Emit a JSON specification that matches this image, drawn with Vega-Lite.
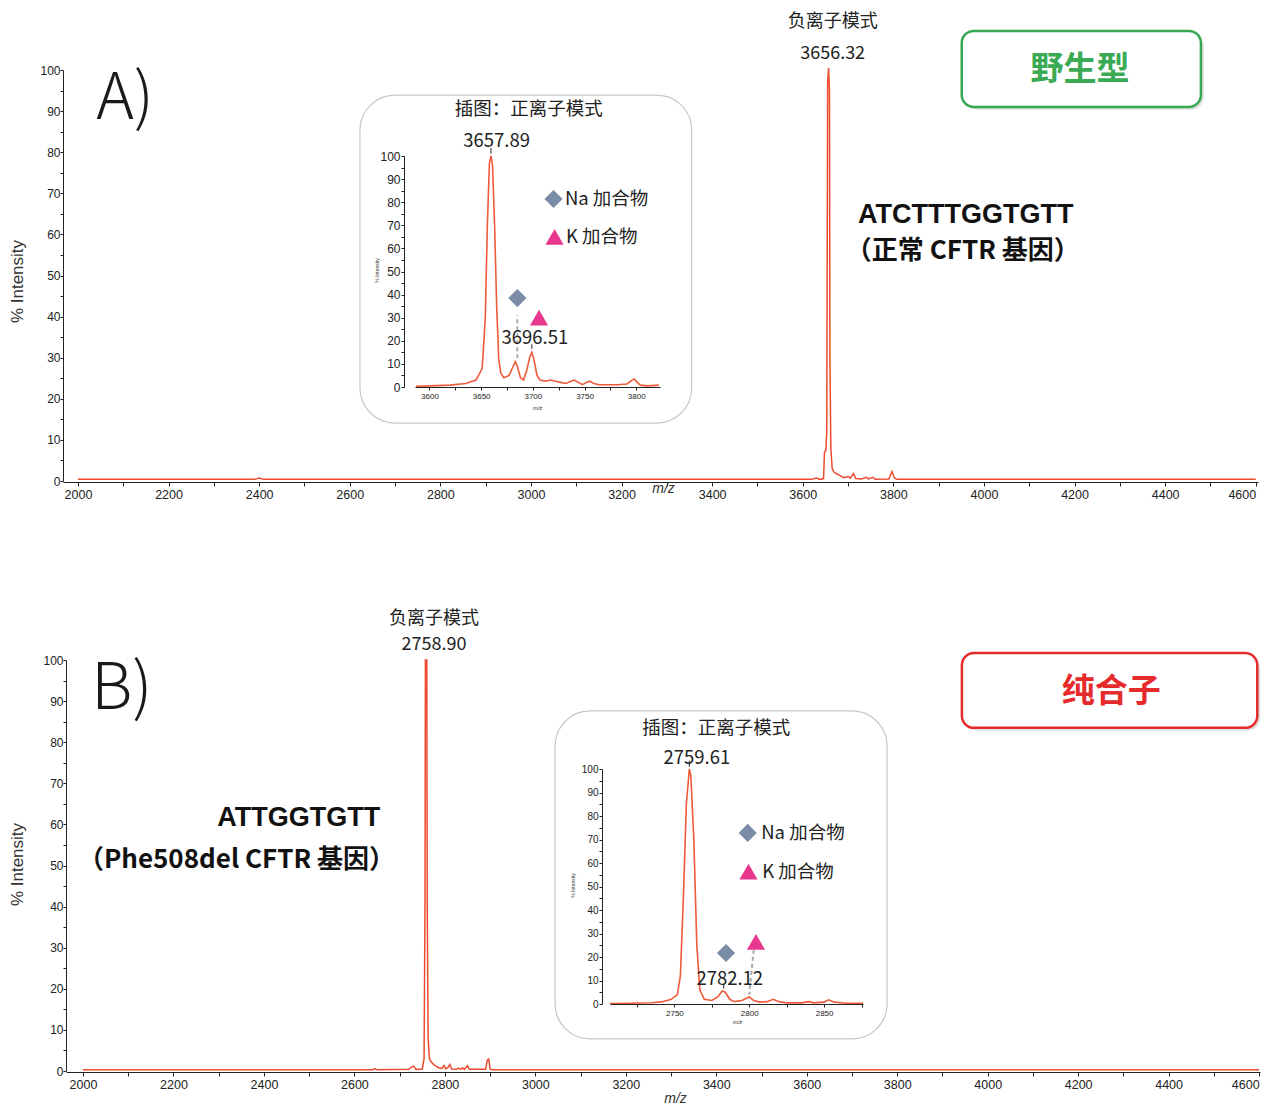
{
  "$schema": "https://vega.github.io/schema/vega-lite/v6.json",
  "width": 1265,
  "height": 1104,
  "padding": 0,
  "autosize": {"type": "none"},
  "background": "white",
  "config": {
    "view": {"stroke": null},
    "axis": {"grid": false, "domainColor": "#222", "tickColor": "#222", "labelColor": "#222", "labelFont": "Liberation Sans", "titleFont": "Liberation Sans", "titleColor": "#333", "titleFontWeight": "normal", "labelFlush": false, "labelOverlap": false},
    "text": {"font": "Noto Sans CJK SC", "color": "#222", "baseline": "middle"}
  },
  "datasets": {
    "specA": [{"x":2000,"y":0.4},{"x":2390,"y":0.4},{"x":2400,"y":0.7},{"x":2410,"y":0.4},{"x":3620,"y":0.4},{"x":3630,"y":0.7},{"x":3638,"y":0.4},{"x":3646,"y":0.6},{"x":3648,"y":7},{"x":3651,"y":7.5},{"x":3653,"y":12},{"x":3655,"y":97},{"x":3657,"y":100.5},{"x":3659,"y":95},{"x":3660,"y":30},{"x":3662,"y":8},{"x":3665,"y":3},{"x":3670,"y":2},{"x":3680,"y":1.5},{"x":3690,"y":0.8},{"x":3700,"y":1.1},{"x":3705,"y":0.7},{"x":3712,"y":1.8},{"x":3717,"y":0.6},{"x":3730,"y":0.5},{"x":3740,"y":0.9},{"x":3745,"y":0.5},{"x":3755,"y":0.9},{"x":3760,"y":0.4},{"x":3790,"y":0.5},{"x":3797,"y":2.3},{"x":3802,"y":0.8},{"x":3808,"y":0.4},{"x":4600,"y":0.4}],
    "specB": [{"x":2000,"y":0.3},{"x":2640,"y":0.3},{"x":2645,"y":0.6},{"x":2650,"y":0.3},{"x":2720,"y":0.4},{"x":2727,"y":1.0},{"x":2731,"y":1.2},{"x":2736,"y":0.4},{"x":2750,"y":0.5},{"x":2754,"y":3},{"x":2756,"y":40},{"x":2757,"y":100},{"x":2760,"y":100},{"x":2761,"y":40},{"x":2763,"y":8},{"x":2766,"y":3},{"x":2770,"y":2.2},{"x":2775,"y":1.6},{"x":2780,"y":1.2},{"x":2786,"y":0.8},{"x":2793,"y":0.6},{"x":2798,"y":1.3},{"x":2802,"y":0.5},{"x":2808,"y":1.0},{"x":2811,"y":1.6},{"x":2815,"y":0.5},{"x":2825,"y":0.4},{"x":2830,"y":0.7},{"x":2835,"y":0.4},{"x":2839,"y":0.8},{"x":2843,"y":0.4},{"x":2850,"y":1.3},{"x":2854,"y":0.4},{"x":2890,"y":0.4},{"x":2894,"y":2.7},{"x":2897,"y":2.9},{"x":2900,"y":0.5},{"x":2905,"y":0.3},{"x":4600,"y":0.3}],
    "insA": [{"x":3587,"y":0.3},{"x":3600,"y":0.5},{"x":3620,"y":0.8},{"x":3635,"y":1.5},{"x":3645,"y":3},{"x":3651,"y":8},{"x":3654,"y":30},{"x":3656,"y":70},{"x":3658,"y":97},{"x":3659.5,"y":100},{"x":3661,"y":96},{"x":3663,"y":70},{"x":3665,"y":35},{"x":3667,"y":12},{"x":3669,"y":6},{"x":3672,"y":4},{"x":3677,"y":5},{"x":3681,"y":9},{"x":3683,"y":11},{"x":3685,"y":9},{"x":3688,"y":4},{"x":3691,"y":3},{"x":3694,"y":7},{"x":3697,"y":13},{"x":3699,"y":15},{"x":3701,"y":12},{"x":3704,"y":5},{"x":3707,"y":3},{"x":3712,"y":2.5},{"x":3717,"y":3},{"x":3722,"y":2.5},{"x":3727,"y":2},{"x":3732,"y":1.5},{"x":3737,"y":2.5},{"x":3740,"y":3},{"x":3744,"y":2},{"x":3748,"y":1},{"x":3752,"y":2},{"x":3755,"y":2.5},{"x":3759,"y":1.5},{"x":3764,"y":1},{"x":3772,"y":1},{"x":3782,"y":1},{"x":3791,"y":1.3},{"x":3796,"y":3},{"x":3798,"y":3.5},{"x":3801,"y":2},{"x":3804,"y":0.8},{"x":3811,"y":0.5},{"x":3822,"y":0.8}],
    "insB": [{"x":2707,"y":0.2},{"x":2720,"y":0.3},{"x":2735,"y":0.5},{"x":2742,"y":1},{"x":2748,"y":2},{"x":2752,"y":4},{"x":2754,"y":12},{"x":2756,"y":45},{"x":2758,"y":85},{"x":2760,"y":100},{"x":2761,"y":97},{"x":2763,"y":70},{"x":2765,"y":25},{"x":2767,"y":6},{"x":2770,"y":2},{"x":2775,"y":1.5},{"x":2779,"y":3},{"x":2782,"y":5.5},{"x":2784,"y":5},{"x":2787,"y":2},{"x":2790,"y":1},{"x":2795,"y":1.5},{"x":2800,"y":3},{"x":2803,"y":1.5},{"x":2807,"y":0.8},{"x":2812,"y":1},{"x":2816,"y":2},{"x":2820,"y":1},{"x":2825,"y":0.5},{"x":2835,"y":0.5},{"x":2840,"y":1},{"x":2843,"y":0.5},{"x":2850,"y":0.8},{"x":2853,"y":1.8},{"x":2857,"y":0.8},{"x":2865,"y":0.3},{"x":2876,"y":0.3}]
  },
  "layer": [
    {
      "data": {"values": [{"x": 2622.5, "x2": 3355, "y": 93.9, "y2": 14.1}]},
      "mark": {"type": "rect", "filled": false, "stroke": "#c8c8c8", "strokeWidth": 1.2, "cornerRadius": 35},
      "encoding": {
        "x": {"field": "x", "type": "quantitative", "scale": {"domain": [1967, 4605], "range": [63, 1258], "nice": false, "zero": false}, "axis": null}, "x2": {"field": "x2"},
        "y": {"field": "y", "type": "quantitative", "scale": {"domain": [0, 100], "range": [481, 70], "nice": false, "zero": false}, "axis": null}, "y2": {"field": "y2"}
      }
    },
    {
      "data": {"values": [{"x": 3043.6, "x2": 3777.6, "y": 87.6, "y2": 7.8}]},
      "mark": {"type": "rect", "filled": false, "stroke": "#c8c8c8", "strokeWidth": 1.2, "cornerRadius": 35},
      "encoding": {
        "x": {"field": "x", "type": "quantitative", "scale": {"domain": [1962.4, 4602], "range": [66, 1260], "nice": false, "zero": false}, "axis": null}, "x2": {"field": "x2"},
        "y": {"field": "y", "type": "quantitative", "scale": {"domain": [0, 100], "range": [1071, 660], "nice": false, "zero": false}, "axis": null}, "y2": {"field": "y2"}
      }
    },
    {
      "data": {"name": "specA"},
      "mark": {"type": "line", "color": "#ee4a30", "strokeWidth": 1.5},
      "encoding": {
        "x": {"field": "x", "type": "quantitative", "scale": {"domain": [1967, 4605], "range": [63, 1258], "nice": false, "zero": false},
          "axis": {"orient": "bottom", "offset": -622, "values": [2000,2100,2200,2300,2400,2500,2600,2700,2800,2900,3000,3100,3200,3300,3400,3500,3600,3700,3800,3900,4000,4100,4200,4300,4400,4500,4600], "format": "d", "labelExpr": "datum.value % 200 === 0 ? datum.label : ''", "labelFlush": 5, "tickSize": 4, "labelPadding": 2, "labelFontSize": 12.5, "title": "m/z", "titleFontStyle": "italic", "titleFontSize": 14, "titleX": 663, "titleY": 6, "titleBaseline": "middle"}},
        "y": {"field": "y", "type": "quantitative", "scale": {"domain": [0, 100], "range": [481, 70], "nice": false, "zero": false},
          "axis": {"orient": "left", "offset": -63, "values": [0,5,10,15,20,25,30,35,40,45,50,55,60,65,70,75,80,85,90,95,100], "labelExpr": "datum.value % 10 === 0 ? datum.label : ''", "tickSize": 3, "labelPadding": 0, "labelFontSize": 12, "title": "% Intensity", "titleFontSize": 17, "titleX": -37, "titleY": 281}}
      }
    },
    {
      "data": {"values": [{"x": 3957.6, "x2": 4485.6, "y": 108.8, "y2": 90.3}]},
      "mark": {"type": "rect", "fill": "#000", "opacity": 0.12, "cornerRadius": 13},
      "encoding": {
        "x": {"field": "x", "type": "quantitative", "scale": {"domain": [1967, 4605], "range": [63, 1258], "nice": false, "zero": false}, "axis": null}, "x2": {"field": "x2"},
        "y": {"field": "y", "type": "quantitative", "scale": {"domain": [0, 100], "range": [481, 70], "nice": false, "zero": false}, "axis": null}, "y2": {"field": "y2"}
      }
    },
    {
      "data": {"values": [{"x": 3951, "x2": 4479, "y": 109.5, "y2": 91}]},
      "mark": {"type": "rect", "fill": "white", "stroke": "#35a852", "strokeWidth": 2.5, "cornerRadius": 12},
      "encoding": {
        "x": {"field": "x", "type": "quantitative", "scale": {"domain": [1967, 4605], "range": [63, 1258], "nice": false, "zero": false}, "axis": null}, "x2": {"field": "x2"},
        "y": {"field": "y", "type": "quantitative", "scale": {"domain": [0, 100], "range": [481, 70], "nice": false, "zero": false}, "axis": null}, "y2": {"field": "y2"}
      }
    },
    {
      "data": {"values": [{"x": 4212, "y": 100, "t": "野生型"}]},
      "mark": {"type": "text", "fontSize": 33, "fontWeight": "bold", "color": "#3aaa55"},
      "encoding": {
        "x": {"field": "x", "type": "quantitative", "scale": {"domain": [1967, 4605], "range": [63, 1258], "nice": false, "zero": false}, "axis": null},
        "y": {"field": "y", "type": "quantitative", "scale": {"domain": [0, 100], "range": [481, 70], "nice": false, "zero": false}, "axis": null},
        "text": {"field": "t"}
      }
    },
    {
      "data": {"values": [{"x": 3666, "y": 111.6, "t": "负离子模式"}, {"x": 3666, "y": 103.9, "t": "3656.32"}]},
      "mark": {"type": "text", "fontSize": 18},
      "encoding": {
        "x": {"field": "x", "type": "quantitative", "scale": {"domain": [1967, 4605], "range": [63, 1258], "nice": false, "zero": false}, "axis": null},
        "y": {"field": "y", "type": "quantitative", "scale": {"domain": [0, 100], "range": [481, 70], "nice": false, "zero": false}, "axis": null},
        "text": {"field": "t"}
      }
    },
    {
      "data": {"values": [{"x": 2104, "y": 92.7, "t": "A)"}]},
      "mark": {"type": "text", "fontSize": 64, "fontWeight": 300, "color": "#1a1a1a"},
      "encoding": {
        "x": {"field": "x", "type": "quantitative", "scale": {"domain": [1967, 4605], "range": [63, 1258], "nice": false, "zero": false}, "axis": null},
        "y": {"field": "y", "type": "quantitative", "scale": {"domain": [0, 100], "range": [481, 70], "nice": false, "zero": false}, "axis": null},
        "text": {"field": "t"}
      }
    },
    {
      "data": {"values": [{"x": 3722, "y": 64.7, "t": "ATCTTTGGTGTT"}]},
      "mark": {"type": "text", "font": "Liberation Sans", "fontSize": 27, "fontWeight": "bold", "align": "left", "color": "#111"},
      "encoding": {
        "x": {"field": "x", "type": "quantitative", "scale": {"domain": [1967, 4605], "range": [63, 1258], "nice": false, "zero": false}, "axis": null},
        "y": {"field": "y", "type": "quantitative", "scale": {"domain": [0, 100], "range": [481, 70], "nice": false, "zero": false}, "axis": null},
        "text": {"field": "t"}
      }
    },
    {
      "data": {"values": [{"x": 3695, "y": 56, "t": "（正常 CFTR 基因）"}]},
      "mark": {"type": "text", "fontSize": 26, "fontWeight": "bold", "align": "left", "color": "#111"},
      "encoding": {
        "x": {"field": "x", "type": "quantitative", "scale": {"domain": [1967, 4605], "range": [63, 1258], "nice": false, "zero": false}, "axis": null},
        "y": {"field": "y", "type": "quantitative", "scale": {"domain": [0, 100], "range": [481, 70], "nice": false, "zero": false}, "axis": null},
        "text": {"field": "t"}
      }
    },
    {
      "data": {"name": "insA"},
      "mark": {"type": "line", "color": "#ef5a3a", "strokeWidth": 1.6},
      "encoding": {
        "x": {"field": "x", "type": "quantitative", "scale": {"domain": [3586, 3823], "range": [415, 660], "nice": false, "zero": false},
          "axis": {"orient": "bottom", "offset": -717, "zindex": 1, "values": [3600,3625,3650,3675,3700,3725,3750,3775,3800], "format": "d", "labelExpr": "datum.value % 50 === 0 ? datum.label : ''", "tickSize": 3, "labelPadding": 2, "labelFontSize": 8, "title": "m/z", "titleFontStyle": "italic", "titleFontSize": 6, "titleX": 537, "titleY": 20, "titleBaseline": "middle"}},
        "y": {"field": "y", "type": "quantitative", "scale": {"domain": [0, 100], "range": [387, 156], "nice": false, "zero": false},
          "axis": {"orient": "left", "offset": -404, "zindex": 1, "values": [0,5,10,15,20,25,30,35,40,45,50,55,60,65,70,75,80,85,90,95,100], "labelExpr": "datum.value % 10 === 0 ? datum.label : ''", "tickSize": 3, "labelPadding": 1, "labelFontSize": 12, "title": "% Intensity", "titleFontSize": 5, "titleX": -25, "titleY": 270}}
      }
    },
    {
      "data": {"values": [{"x": 3685, "x2": 3685, "y": 12.5, "y2": 31}]},
      "mark": {"type": "rule", "color": "#aaaaaa", "strokeWidth": 2, "strokeDash": [4, 3]},
      "encoding": {
        "x": {"field": "x", "type": "quantitative", "scale": {"domain": [3586, 3823], "range": [415, 660], "nice": false, "zero": false}, "axis": null}, "x2": {"field": "x2"},
        "y": {"field": "y", "type": "quantitative", "scale": {"domain": [0, 100], "range": [387, 156], "nice": false, "zero": false}, "axis": null}, "y2": {"field": "y2"}
      }
    },
    {
      "data": {"values": [{"x": 3659.5, "x2": 3659.5, "y": 101, "y2": 103.5}, {"x": 3699, "x2": 3699, "y": 16.5, "y2": 18.5}]},
      "mark": {"type": "rule", "color": "#222", "strokeWidth": 1},
      "encoding": {
        "x": {"field": "x", "type": "quantitative", "scale": {"domain": [3586, 3823], "range": [415, 660], "nice": false, "zero": false}, "axis": null}, "x2": {"field": "x2"},
        "y": {"field": "y", "type": "quantitative", "scale": {"domain": [0, 100], "range": [387, 156], "nice": false, "zero": false}, "axis": null}, "y2": {"field": "y2"}
      }
    },
    {
      "data": {"values": [{"x": 3685, "y": 38.5}, {"x": 3720, "y": 81.4}]},
      "mark": {"type": "point", "shape": "diamond", "filled": true, "color": "#7b8ca6", "opacity": 1, "size": 330},
      "encoding": {
        "x": {"field": "x", "type": "quantitative", "scale": {"domain": [3586, 3823], "range": [415, 660], "nice": false, "zero": false}, "axis": null},
        "y": {"field": "y", "type": "quantitative", "scale": {"domain": [0, 100], "range": [387, 156], "nice": false, "zero": false}, "axis": null}
      }
    },
    {
      "data": {"values": [{"x": 3706, "y": 30}, {"x": 3721, "y": 65}]},
      "mark": {"type": "point", "shape": "triangle-up", "filled": true, "color": "#e8388d", "opacity": 1, "size": 330},
      "encoding": {
        "x": {"field": "x", "type": "quantitative", "scale": {"domain": [3586, 3823], "range": [415, 660], "nice": false, "zero": false}, "axis": null},
        "y": {"field": "y", "type": "quantitative", "scale": {"domain": [0, 100], "range": [387, 156], "nice": false, "zero": false}, "axis": null}
      }
    },
    {
      "data": {"values": [{"x": 3696, "y": 120.2, "t": "插图：正离子模式"}, {"x": 3665, "y": 106.5, "t": "3657.89"}, {"x": 3702, "y": 21, "t": "3696.51"}]},
      "mark": {"type": "text", "fontSize": 18.5},
      "encoding": {
        "x": {"field": "x", "type": "quantitative", "scale": {"domain": [3586, 3823], "range": [415, 660], "nice": false, "zero": false}, "axis": null},
        "y": {"field": "y", "type": "quantitative", "scale": {"domain": [0, 100], "range": [387, 156], "nice": false, "zero": false}, "axis": null},
        "text": {"field": "t"}
      }
    },
    {
      "data": {"values": [{"x": 3731, "y": 81.4, "t": "Na 加合物"}, {"x": 3732, "y": 65, "t": "K 加合物"}]},
      "mark": {"type": "text", "fontSize": 18.5, "align": "left"},
      "encoding": {
        "x": {"field": "x", "type": "quantitative", "scale": {"domain": [3586, 3823], "range": [415, 660], "nice": false, "zero": false}, "axis": null},
        "y": {"field": "y", "type": "quantitative", "scale": {"domain": [0, 100], "range": [387, 156], "nice": false, "zero": false}, "axis": null},
        "text": {"field": "t"}
      }
    },
    {
      "data": {"name": "specB"},
      "mark": {"type": "line", "color": "#ee4a30", "strokeWidth": 1.5},
      "encoding": {
        "x": {"field": "x", "type": "quantitative", "scale": {"domain": [1962.4, 4602], "range": [66, 1260], "nice": false, "zero": false},
          "axis": {"orient": "bottom", "offset": -32, "values": [2000,2100,2200,2300,2400,2500,2600,2700,2800,2900,3000,3100,3200,3300,3400,3500,3600,3700,3800,3900,4000,4100,4200,4300,4400,4500,4600], "format": "d", "labelExpr": "datum.value % 200 === 0 ? datum.label : ''", "labelFlush": 5, "tickSize": 4, "labelPadding": 2, "labelFontSize": 12.5, "title": "m/z", "titleFontStyle": "italic", "titleFontSize": 14, "titleX": 675, "titleY": 26, "titleBaseline": "middle"}},
        "y": {"field": "y", "type": "quantitative", "scale": {"domain": [0, 100], "range": [1071, 660], "nice": false, "zero": false},
          "axis": {"orient": "left", "offset": -66, "values": [0,5,10,15,20,25,30,35,40,45,50,55,60,65,70,75,80,85,90,95,100], "labelExpr": "datum.value % 10 === 0 ? datum.label : ''", "tickSize": 3, "labelPadding": 0, "labelFontSize": 12, "title": "% Intensity", "titleFontSize": 17, "titleX": -40, "titleY": 864}}
      }
    },
    {
      "data": {"values": [{"x": 3949.6, "x2": 4602.6, "y": 101, "y2": 82.8}]},
      "mark": {"type": "rect", "fill": "#000", "opacity": 0.12, "cornerRadius": 13},
      "encoding": {
        "x": {"field": "x", "type": "quantitative", "scale": {"domain": [1962.4, 4602], "range": [66, 1260], "nice": false, "zero": false}, "axis": null}, "x2": {"field": "x2"},
        "y": {"field": "y", "type": "quantitative", "scale": {"domain": [0, 100], "range": [1071, 660], "nice": false, "zero": false}, "axis": null}, "y2": {"field": "y2"}
      }
    },
    {
      "data": {"values": [{"x": 3943, "x2": 4596, "y": 101.7, "y2": 83.5}]},
      "mark": {"type": "rect", "fill": "white", "stroke": "#e52b2b", "strokeWidth": 2.5, "cornerRadius": 12},
      "encoding": {
        "x": {"field": "x", "type": "quantitative", "scale": {"domain": [1962.4, 4602], "range": [66, 1260], "nice": false, "zero": false}, "axis": null}, "x2": {"field": "x2"},
        "y": {"field": "y", "type": "quantitative", "scale": {"domain": [0, 100], "range": [1071, 660], "nice": false, "zero": false}, "axis": null}, "y2": {"field": "y2"}
      }
    },
    {
      "data": {"values": [{"x": 4273, "y": 92.2, "t": "纯合子"}]},
      "mark": {"type": "text", "fontSize": 33, "fontWeight": "bold", "color": "#e52b2b"},
      "encoding": {
        "x": {"field": "x", "type": "quantitative", "scale": {"domain": [1962.4, 4602], "range": [66, 1260], "nice": false, "zero": false}, "axis": null},
        "y": {"field": "y", "type": "quantitative", "scale": {"domain": [0, 100], "range": [1071, 660], "nice": false, "zero": false}, "axis": null},
        "text": {"field": "t"}
      }
    },
    {
      "data": {"values": [{"x": 2776, "y": 110, "t": "负离子模式"}, {"x": 2776, "y": 103.6, "t": "2758.90"}]},
      "mark": {"type": "text", "fontSize": 18},
      "encoding": {
        "x": {"field": "x", "type": "quantitative", "scale": {"domain": [1962.4, 4602], "range": [66, 1260], "nice": false, "zero": false}, "axis": null},
        "y": {"field": "y", "type": "quantitative", "scale": {"domain": [0, 100], "range": [1071, 660], "nice": false, "zero": false}, "axis": null},
        "text": {"field": "t"}
      }
    },
    {
      "data": {"values": [{"x": 2086, "y": 92.7, "t": "B)"}]},
      "mark": {"type": "text", "fontSize": 64, "fontWeight": 300, "color": "#1a1a1a"},
      "encoding": {
        "x": {"field": "x", "type": "quantitative", "scale": {"domain": [1962.4, 4602], "range": [66, 1260], "nice": false, "zero": false}, "axis": null},
        "y": {"field": "y", "type": "quantitative", "scale": {"domain": [0, 100], "range": [1071, 660], "nice": false, "zero": false}, "axis": null},
        "text": {"field": "t"}
      }
    },
    {
      "data": {"values": [{"x": 2657, "y": 61.6, "t": "ATTGGTGTT"}]},
      "mark": {"type": "text", "font": "Liberation Sans", "fontSize": 27, "fontWeight": "bold", "align": "right", "color": "#111"},
      "encoding": {
        "x": {"field": "x", "type": "quantitative", "scale": {"domain": [1962.4, 4602], "range": [66, 1260], "nice": false, "zero": false}, "axis": null},
        "y": {"field": "y", "type": "quantitative", "scale": {"domain": [0, 100], "range": [1071, 660], "nice": false, "zero": false}, "axis": null},
        "text": {"field": "t"}
      }
    },
    {
      "data": {"values": [{"x": 2690, "y": 51.3, "t": "（Phe508del CFTR 基因）"}]},
      "mark": {"type": "text", "fontSize": 26, "fontWeight": "bold", "align": "right", "color": "#111"},
      "encoding": {
        "x": {"field": "x", "type": "quantitative", "scale": {"domain": [1962.4, 4602], "range": [66, 1260], "nice": false, "zero": false}, "axis": null},
        "y": {"field": "y", "type": "quantitative", "scale": {"domain": [0, 100], "range": [1071, 660], "nice": false, "zero": false}, "axis": null},
        "text": {"field": "t"}
      }
    },
    {
      "data": {"name": "insB"},
      "mark": {"type": "line", "color": "#ef5a3a", "strokeWidth": 1.6},
      "encoding": {
        "x": {"field": "x", "type": "quantitative", "scale": {"domain": [2707, 2876], "range": [610, 863], "nice": false, "zero": false},
          "axis": {"orient": "bottom", "offset": -100, "zindex": 1, "values": [2725,2750,2775,2800,2825,2850,2875], "format": "d", "labelExpr": "datum.value % 50 === 0 ? datum.label : ''", "tickSize": 3, "labelPadding": 2, "labelFontSize": 8, "title": "m/z", "titleFontStyle": "italic", "titleFontSize": 6, "titleX": 737, "titleY": 17, "titleBaseline": "middle"}},
        "y": {"field": "y", "type": "quantitative", "scale": {"domain": [0, 100], "range": [1004, 769], "nice": false, "zero": false},
          "axis": {"orient": "left", "offset": -602, "zindex": 1, "values": [0,5,10,15,20,25,30,35,40,45,50,55,60,65,70,75,80,85,90,95,100], "labelExpr": "datum.value % 10 === 0 ? datum.label : ''", "tickSize": 3, "labelPadding": 1, "labelFontSize": 10, "title": "% Intensity", "titleFontSize": 5, "titleX": -27, "titleY": 885}}
      }
    },
    {
      "data": {"values": [{"x": 2803, "x2": 2800, "y": 23, "y2": 4}]},
      "mark": {"type": "rule", "color": "#aaaaaa", "strokeWidth": 2, "strokeDash": [4, 3]},
      "encoding": {
        "x": {"field": "x", "type": "quantitative", "scale": {"domain": [2707, 2876], "range": [610, 863], "nice": false, "zero": false}, "axis": null}, "x2": {"field": "x2"},
        "y": {"field": "y", "type": "quantitative", "scale": {"domain": [0, 100], "range": [1004, 769], "nice": false, "zero": false}, "axis": null}, "y2": {"field": "y2"}
      }
    },
    {
      "data": {"values": [{"x": 2760, "x2": 2760, "y": 101, "y2": 103.5}, {"x": 2783, "x2": 2783, "y": 6.5, "y2": 8.5}]},
      "mark": {"type": "rule", "color": "#222", "strokeWidth": 1},
      "encoding": {
        "x": {"field": "x", "type": "quantitative", "scale": {"domain": [2707, 2876], "range": [610, 863], "nice": false, "zero": false}, "axis": null}, "x2": {"field": "x2"},
        "y": {"field": "y", "type": "quantitative", "scale": {"domain": [0, 100], "range": [1004, 769], "nice": false, "zero": false}, "axis": null}, "y2": {"field": "y2"}
      }
    },
    {
      "data": {"values": [{"x": 2784.5, "y": 21.7}, {"x": 2799, "y": 72.8}]},
      "mark": {"type": "point", "shape": "diamond", "filled": true, "color": "#7b8ca6", "opacity": 1, "size": 330},
      "encoding": {
        "x": {"field": "x", "type": "quantitative", "scale": {"domain": [2707, 2876], "range": [610, 863], "nice": false, "zero": false}, "axis": null},
        "y": {"field": "y", "type": "quantitative", "scale": {"domain": [0, 100], "range": [1004, 769], "nice": false, "zero": false}, "axis": null}
      }
    },
    {
      "data": {"values": [{"x": 2804.5, "y": 26.4}, {"x": 2799.5, "y": 56.3}]},
      "mark": {"type": "point", "shape": "triangle-up", "filled": true, "color": "#e8388d", "opacity": 1, "size": 330},
      "encoding": {
        "x": {"field": "x", "type": "quantitative", "scale": {"domain": [2707, 2876], "range": [610, 863], "nice": false, "zero": false}, "axis": null},
        "y": {"field": "y", "type": "quantitative", "scale": {"domain": [0, 100], "range": [1004, 769], "nice": false, "zero": false}, "axis": null}
      }
    },
    {
      "data": {"values": [{"x": 2778, "y": 117.4, "t": "插图：正离子模式"}, {"x": 2765, "y": 104.7, "t": "2759.61"}, {"x": 2787, "y": 10.6, "t": "2782.12"}]},
      "mark": {"type": "text", "fontSize": 18.5},
      "encoding": {
        "x": {"field": "x", "type": "quantitative", "scale": {"domain": [2707, 2876], "range": [610, 863], "nice": false, "zero": false}, "axis": null},
        "y": {"field": "y", "type": "quantitative", "scale": {"domain": [0, 100], "range": [1004, 769], "nice": false, "zero": false}, "axis": null},
        "text": {"field": "t"}
      }
    },
    {
      "data": {"values": [{"x": 2808, "y": 72.8, "t": "Na 加合物"}, {"x": 2808.7, "y": 56.3, "t": "K 加合物"}]},
      "mark": {"type": "text", "fontSize": 18.5, "align": "left"},
      "encoding": {
        "x": {"field": "x", "type": "quantitative", "scale": {"domain": [2707, 2876], "range": [610, 863], "nice": false, "zero": false}, "axis": null},
        "y": {"field": "y", "type": "quantitative", "scale": {"domain": [0, 100], "range": [1004, 769], "nice": false, "zero": false}, "axis": null},
        "text": {"field": "t"}
      }
    }
  ],
  "resolve": {"scale": {"x": "independent", "y": "independent"}, "axis": {"x": "independent", "y": "independent"}}
}
